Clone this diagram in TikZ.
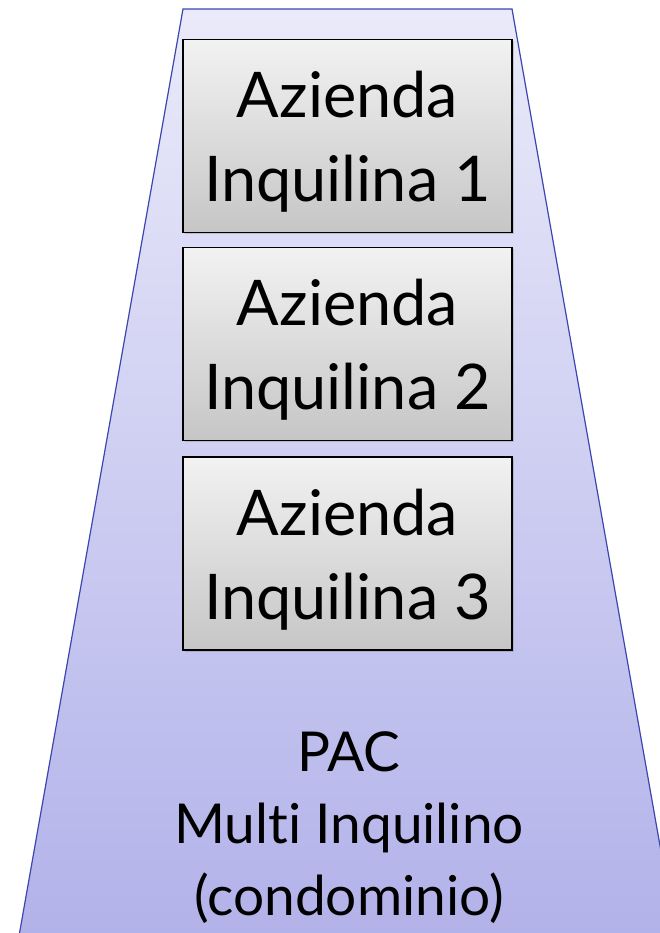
\documentclass[tikz,border=0pt]{standalone}
\usepackage{fontspec}
\setmainfont[Ligatures=NoCommon]{Lato}
\usetikzlibrary{shadows}
\definecolor{pacTop}{RGB}{234,234,250}
\definecolor{pacBottom}{RGB}{178,178,234}
\definecolor{pacEdge}{RGB}{60,70,175}
\definecolor{boxTop}{RGB}{242,242,242}
\definecolor{boxBottom}{RGB}{198,198,198}
\tikzset{
  tenantbox/.style={draw=black, line width=1.2pt, minimum width=329pt, minimum height=193pt,
    top color=boxTop, bottom color=boxBottom, inner sep=0pt,
    drop shadow={shadow xshift=1.5pt, shadow yshift=-1.5pt, opacity=0.35}},
  tenanttext/.style={align=center, inner sep=0pt, font=\fontsize{63}{84}\selectfont},
  pactext/.style={align=center, inner sep=0pt, font=\fontsize{55}{72}\selectfont}
}
\begin{document}
\begin{tikzpicture}[x=1pt, y=-1pt]
  \useasboundingbox (0,0) rectangle (660,933);
  \clip (0,0) rectangle (660,933);
  % multi-tenant platform (trapezoid)
  \path[top color=pacTop, bottom color=pacBottom, draw=pacEdge, line width=1.2pt]
    (183,9) -- (512,9) -- (676,936) -- (19,936) -- cycle;
  % tenant boxes
  \node[tenantbox] (b1) at (347.5,136) {};
  \node[tenantbox] (b2) at (347.5,344) {};
  \node[tenantbox] (b3) at (347.5,553.5) {};
  \node[tenanttext] (t1) at ([yshift=-6pt]b1.center) {Azienda\\Inquilina 1};
  \node[tenanttext] (t2) at ([yshift=-6pt]b2.center) {Azienda\\Inquilina 2};
  \node[tenanttext] (t3) at ([yshift=-6pt]b3.center) {Azienda\\Inquilina 3};
  % platform label
  \node[pactext] (pac) at (349,828) {PAC\\Multi Inquilino\\(condominio)};
\end{tikzpicture}
\end{document}
